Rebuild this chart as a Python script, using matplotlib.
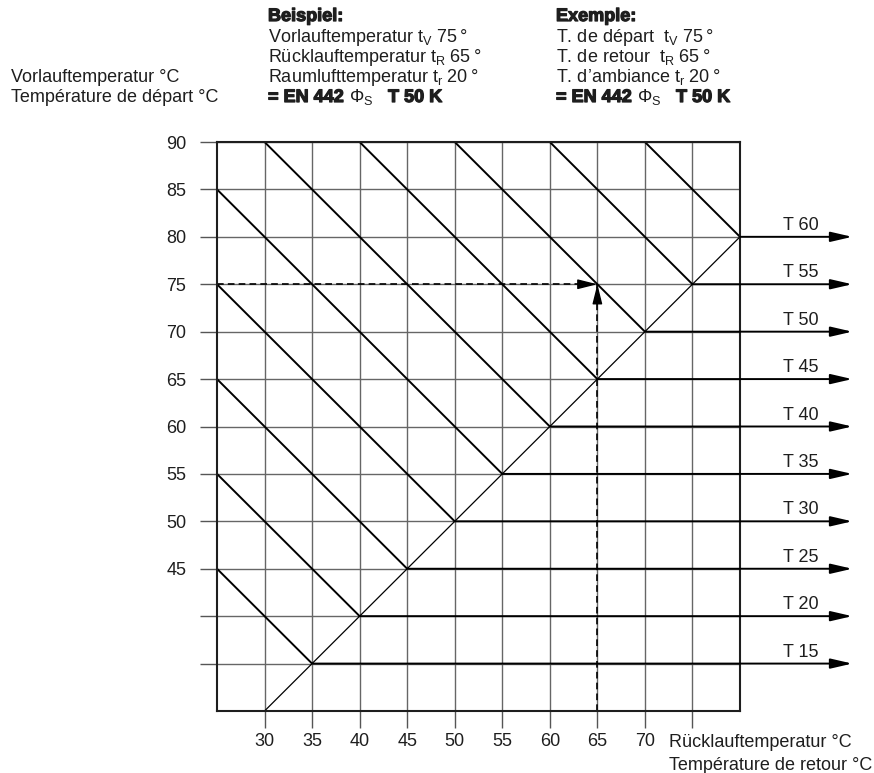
import numpy as np
import matplotlib
matplotlib.use('Agg')
import matplotlib.pyplot as plt
import matplotlib.patheffects as pe

plt.rcParams['font.family'] = ['Liberation Sans', 'DejaVu Sans']
plt.rcParams['mathtext.fontset'] = 'custom'
plt.rcParams['mathtext.rm'] = 'Liberation Sans'
plt.rcParams['mathtext.it'] = 'Liberation Sans:italic'
plt.rcParams['mathtext.bf'] = 'Liberation Sans:bold'

# data
x_ticks = [30, 35, 40, 45, 50, 55, 60, 65, 70, 75]
x_labels = ['30', '35', '40', '45', '50', '55', '60', '65', '70', '']
y_ticks = [35, 40, 45, 50, 55, 60, 65, 70, 75, 80, 85, 90]
y_labels = ['', '', '45', '50', '55', '60', '65', '70', '75', '80', '85', '90']
t_values = [15, 20, 25, 30, 35, 40, 45, 50, 55, 60]   # T = (tv+tr)/2 - tr_room
t_room = 20
sums = [70, 80, 90, 100, 110, 120, 130, 140, 150, 160]  # tv + tr = const
ex_tv = 75
ex_tr = 65

W, H = 874, 773
fig = plt.figure(figsize=(W / 100, H / 100), dpi=100)
ax = fig.add_axes([217 / W, 62 / H, 523 / W, 569 / H])
ax.set_xlim(25, 80)
ax.set_ylim(30, 90)

ax.set_xticks(x_ticks)
ax.set_xticklabels(x_labels)
ax.set_yticks(y_ticks)
ax.set_yticklabels(y_labels)
ax.tick_params(axis='both', direction='out', length=12, width=1, color='#555555',
               labelsize=13, labelcolor='#1e1e1e')
ax.tick_params(axis='y', pad=10)
ax.tick_params(axis='x', pad=4)
ax.grid(True, color='#666666', lw=1)
ax.set_axisbelow(True)
for s in ax.spines.values():
    s.set_color('#1e1e1e')
    s.set_linewidth(1.5)

# lines tv + tr = const, down to tv = tr
for s in sums:
    if s - 25 <= 90:
        x0, y0 = 25, s - 25
    else:
        x0, y0 = s - 90, 90
    ax.plot([x0, s / 2], [y0, s / 2], color='black', lw=1.4, solid_capstyle='butt')

# tv = tr line
ax.plot([30, 80], [30, 80], color='black', lw=0.9)

# T lines with arrows
for t in t_values:
    y = t + t_room
    ax.annotate('', xy=(91.8, y), xytext=(y, y), annotation_clip=False,
                arrowprops=dict(arrowstyle='-|>,head_length=1.3,head_width=0.3',
                                mutation_scale=10, color='black', lw=1.4,
                                shrinkA=0, shrinkB=0))
    ax.annotate('T %d' % t, xy=(88.3, y), xytext=(0, 5), textcoords='offset points',
                ha='right', va='baseline', fontsize=13, color='#1e1e1e',
                annotation_clip=False)

# example dashed lines
ax.plot([25, ex_tr], [ex_tv, ex_tv], color='black', lw=1.2, ls=(0, (4, 2.5)))
ax.plot([ex_tr, ex_tr], [30, ex_tv], color='black', lw=1.2, ls=(0, (4, 2.5)))
ax.annotate('', xy=(ex_tr, ex_tv), xytext=(ex_tr - 2, ex_tv),
            arrowprops=dict(arrowstyle='-|>,head_length=1.2,head_width=0.3',
                            mutation_scale=10, color='black', lw=1, shrinkA=0, shrinkB=0))
ax.annotate('', xy=(ex_tr, ex_tv), xytext=(ex_tr, ex_tv - 2),
            arrowprops=dict(arrowstyle='-|>,head_length=1.2,head_width=0.3',
                            mutation_scale=10, color='black', lw=1, shrinkA=0, shrinkB=0))


def ftext(x, y, s, **kw):
    return fig.text(x / W, 1 - y / H, s, va='baseline', ha='left', fontsize=13,
                    color='#1e1e1e', **kw)


# axis titles
ftext(11, 82, 'Vorlauftemperatur °C')
ftext(11, 102, 'Température de départ °C')
ftext(669, 747, 'Rücklauftemperatur °C')
ftext(669, 770, 'Température de retour °C')

# example blocks
col1 = ['Vorlauftemperatur $\\mathrm{t_V}$ 75\u2009°',
        'Rücklauftemperatur $\\mathrm{t_R}$ 65\u2009°',
        'Raumlufttemperatur $\\mathrm{t_r}$ 20\u2009°']
col2 = ['T. de départ  $\\mathrm{t_V}$ 75\u2009°',
        'T. de retour  $\\mathrm{t_R}$ 65\u2009°',
        'T. d\u2019ambiance $\\mathrm{t_r}$ 20\u2009°']
heavy = [pe.withStroke(linewidth=0.9, foreground='#1e1e1e')]
renderer = fig.canvas.get_renderer()
for x0, head, lines in [(268, 'Beispiel:', col1), (556, 'Exemple:', col2)]:
    ftext(x0, 21, head, fontweight='bold', path_effects=heavy)
    for i, ln in enumerate(lines):
        ftext(x0, 42 + 20 * i, ln)
    t1 = ftext(x0, 102, '= EN 442', fontweight='bold', path_effects=heavy)
    x1 = t1.get_window_extent(renderer).x1 + 5
    t2 = ftext(x1, 102, '$\\Phi_\\mathrm{S}$')
    x2 = t2.get_window_extent(renderer).x1 + 15
    ftext(x2, 102, 'T 50 K', fontweight='bold', path_effects=heavy)

fig.savefig('out.png', dpi=100)
